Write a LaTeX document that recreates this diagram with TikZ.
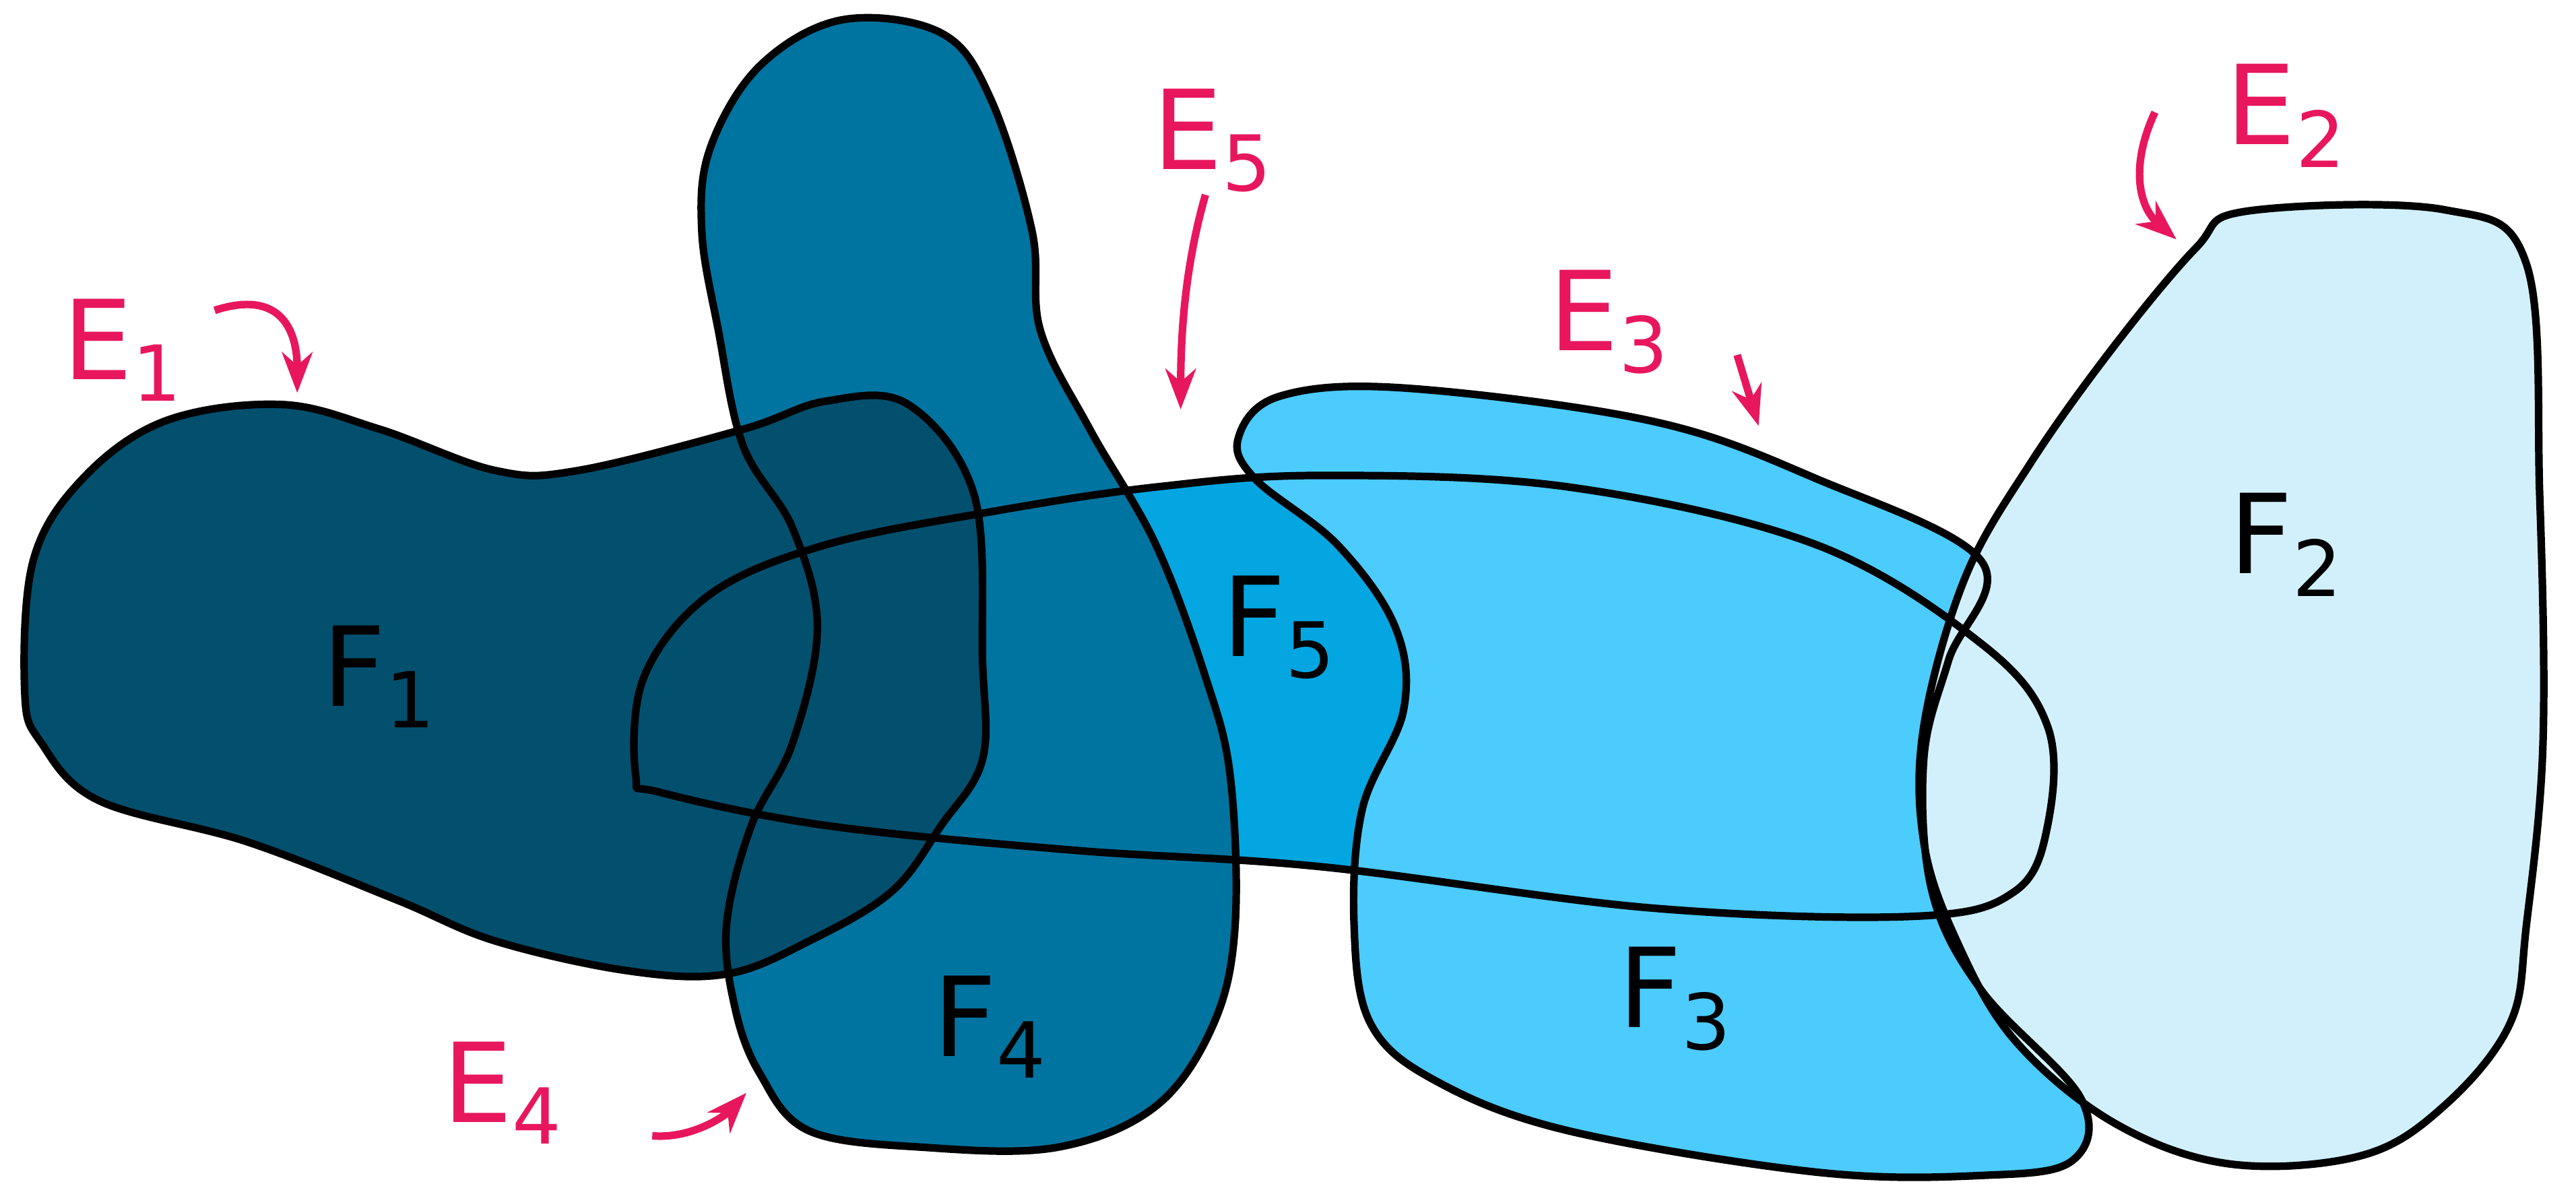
\documentclass[tikz,border=0pt]{standalone}
\usepackage{fontspec}
\setmainfont{DejaVu Sans}
\usetikzlibrary{arrows.meta}
\definecolor{cF1}{HTML}{034F6E}
\definecolor{cF4}{HTML}{0074A0}
\definecolor{cF5}{HTML}{03A6E1}
\definecolor{cF3}{HTML}{4CCBFD}
\definecolor{cF2}{HTML}{D2F0FC}
\definecolor{pinkE}{HTML}{E8175D}
\tikzset{blob/.style={line width=1.3pt,draw=black},
 elab/.style={text=pinkE,font=\fontsize{19}{22}\selectfont},
 flab/.style={text=black,font=\fontsize{19}{22}\selectfont},
 earr/.style={draw=pinkE,line width=1.3pt,-{Stealth[length=7pt]}}}
\newcommand{\sbs}[1]{\textsubscript{#1}}
\begin{document}
\begin{tikzpicture}[x=0.01cm,y=-0.01cm]
\useasboundingbox (0,0) rectangle (1560,718);
\def\Ffive{plot[smooth cycle,tension=0.6] coordinates{(385,470)(390,410)(430,360)(500,330)(600,310)(700,295)(800,288)(950,295)(1100,330)(1200,390)(1240,440)(1240,500)(1220,540)(1160,555)(1000,550)(800,525)(650,515)(500,500)(400,480)}}
\def\Fthree{plot[smooth cycle,tension=0.6] coordinates{(750,265)(775,240)(850,235)(1000,255)(1100,290)(1200,340)(1180,400)(1165,460)(1170,540)(1200,600)(1260,665)(1255,703)(1200,712)(1100,710)(950,685)(870,655)(830,620)(820,560)(825,490)(850,430)(845,380)(810,330)(760,290)}}
\def\Ftwo{plot[smooth cycle,tension=0.6] coordinates{(1330,150)(1360,128)(1480,127)(1530,160)(1538,300)(1540,450)(1530,560)(1520,620)(1480,670)(1430,700)(1350,705)(1280,680)(1220,630)(1185,570)(1165,510)(1165,440)(1190,350)(1230,280)(1280,210)}}
\def\Ffour{plot[smooth cycle,tension=0.6] coordinates{(430,90)(460,40)(510,12)(570,20)(600,60)(625,140)(630,200)(660,260)(700,330)(730,410)(745,470)(748,560)(735,620)(700,670)(640,695)(560,695)(490,685)(460,650)(445,610)(440,560)(455,500)(480,450)(495,380)(480,320)(450,270)(435,200)(425,140)}}
\def\Fone{plot[smooth cycle,tension=0.6] coordinates{(15,420)(20,340)(50,290)(100,255)(170,245)(230,260)(300,285)(350,285)(450,260)(500,243)(550,245)(590,300)(595,400)(595,460)(570,500)(540,540)(490,570)(440,590)(380,588)(300,570)(240,545)(150,510)(60,485)(25,450)}}
\fill[cF5] \Ffive;
\fill[cF3] \Fthree;
\fill[cF2] \Ftwo;
\fill[cF4] \Ffour;
\fill[cF1] \Fone;
\draw[blob] \Ffive; \draw[blob] \Fthree; \draw[blob] \Ftwo; \draw[blob] \Ffour; \draw[blob] \Fone;
\node[flab] (f1) at (230,410) {F\sbs{1}};
\node[flab] (f2) at (1385,330) {F\sbs{2}};
\node[flab] (f3) at (1015,605) {F\sbs{3}};
\node[flab] (f4) at (600,622) {F\sbs{4}};
\node[flab] (f5) at (775,380) {F\sbs{5}};
\node[elab] (e1) at (75,212) {E\sbs{1}};
\node[elab] (e2) at (1385,70) {E\sbs{2}};
\node[elab] (e3) at (975,195) {E\sbs{3}};
\node[elab] (e4) at (305,662) {E\sbs{4}};
\node[elab] (e5) at (735,85) {E\sbs{5}};
\coordinate (a1s) at (130,188); \coordinate (a1e) at (180,238);
\draw[earr] (a1s) .. controls (170,175) and (180,200) .. (a1e);
\coordinate (a2s) at (1305,68); \coordinate (a2e) at (1318,145);
\draw[earr] (a2s) .. controls (1290,100) and (1295,125) .. (a2e);
\coordinate (a3s) at (1052,215); \coordinate (a3e) at (1065,258);
\draw[earr] (a3s) -- (a3e);
\coordinate (a4s) at (395,688); \coordinate (a4e) at (452,662);
\draw[earr] (a4s) .. controls (420,690) and (440,675) .. (a4e);
\coordinate (a5s) at (730,118); \coordinate (a5e) at (715,248);
\draw[earr] (a5s) .. controls (718,160) and (715,200) .. (a5e);
\end{tikzpicture}
\end{document}
